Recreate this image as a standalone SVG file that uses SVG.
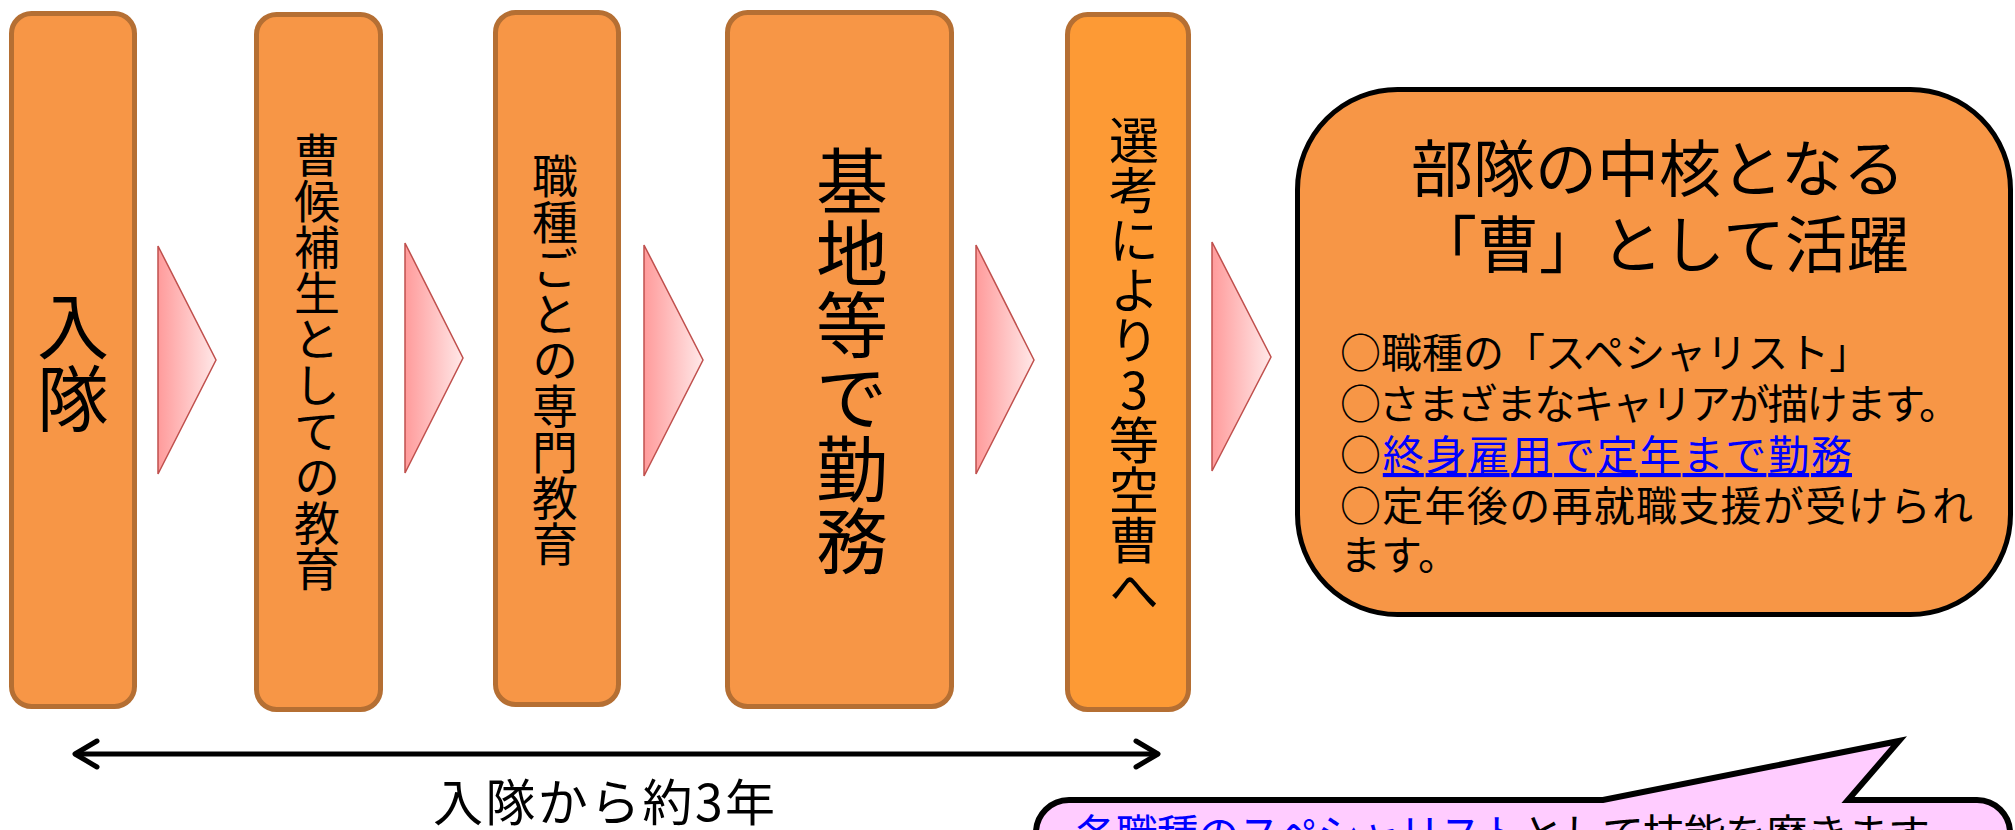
<svg xmlns="http://www.w3.org/2000/svg" width="2015" height="830" viewBox="0 0 2015 830">
<defs>
<linearGradient id="tri" x1="0" y1="0" x2="1" y2="0">
<stop offset="0" stop-color="#FF9B9B"/>
<stop offset="1" stop-color="#FFE8E8"/>
</linearGradient>
<style>
.box{fill:#F79646;stroke:#B56F33;stroke-width:5}
.box5{fill:#FD9A35;stroke:#B56F33;stroke-width:5}
.tri{fill:url(#tri);stroke:#C0504D;stroke-width:1.5;stroke-linejoin:miter}
.t{font-family:"Noto Sans CJK JP","Noto Sans CJK SC",sans-serif;fill:#000}
.v{writing-mode:vertical-rl;text-orientation:upright;text-anchor:middle}
.dbl{fill:none;stroke:#000;stroke-width:5;stroke-linecap:round;stroke-linejoin:round}
.blue{fill:#0000FF}
</style>
</defs>
<rect width="2015" height="830" fill="#FFFFFF"/>

<g id="connectors">
<polygon class="tri" points="158,246 216,360 158,474"/>
<polygon class="tri" points="405,243 463,358 405,473"/>
<polygon class="tri" points="644,245 703,360 644,476"/>
<polygon class="tri" points="976,245 1034,360 976,474"/>
<polygon class="tri" points="1212,242 1271,357 1212,471"/>
<g id="span-arrow">
<line class="dbl" x1="76" y1="754" x2="1157" y2="754"/>
<polyline class="dbl" points="97,741 75,754 97,767"/>
<polyline class="dbl" points="1136,741 1158,754 1136,767"/>
</g>
</g>

<g id="n1">
<rect class="box" x="11.5" y="13.5" width="123" height="693" rx="20"/>
<text class="t v" x="73" y="362" font-size="72">入隊</text>
</g>
<g id="n2">
<rect class="box" x="256.5" y="14.5" width="124" height="695" rx="20"/>
<text class="t v" x="317" y="362" font-size="46">曹候補生としての教育</text>
</g>
<g id="n3">
<rect class="box" x="495.5" y="12.5" width="123" height="692" rx="20"/>
<text class="t v" x="555" y="360" font-size="46">職種ごとの専門教育</text>
</g>
<g id="n4">
<rect class="box" x="727.5" y="12.5" width="224" height="694" rx="20"/>
<text class="t v" x="852" y="361" font-size="72">基地等で勤務</text>
</g>
<g id="n5">
<rect class="box5" x="1067.5" y="14.5" width="121" height="695" rx="20"/>
<text class="t v" x="1134" y="365" font-size="50">選考により3等空曹へ</text>
</g>

<g id="n6">
<rect x="1297.5" y="89.5" width="713" height="525" rx="100" fill="#F79646" stroke="#000" stroke-width="5"/>
<text class="t" x="1658" y="192" font-size="62" text-anchor="middle">部隊の中核となる</text>
<text class="t" x="1662" y="268" font-size="62" text-anchor="middle">「曹」として活躍</text>
<text class="t" x="1340" y="368" font-size="41">○職種の「スペシャリスト」</text>
<text class="t" x="1340" y="419" font-size="41" textLength="620" lengthAdjust="spacing">○さまざまなキャリアが描けます。</text>
<text class="t" x="1340" y="470" font-size="41" textLength="512" lengthAdjust="spacing">○<tspan class="blue" text-decoration="underline">終身雇用で定年まで勤務</tspan></text>
<text class="t" x="1340" y="521" font-size="41" textLength="633" lengthAdjust="spacing">○定年後の再就職支援が受けられ</text>
<text class="t" x="1340" y="570" font-size="41">ます。</text>
</g>

<g id="label-period">
<text class="t" x="433" y="821" font-size="50" textLength="342" lengthAdjust="spacing">入隊から約3年</text>
</g>

<g id="n7">
<path d="M1036,900 V833 A33,33 0 0 1 1069,800 H1603 L1899,741 L1848,800 H1977 A33,33 0 0 1 2010,833 V900 Z" fill="#FFCCFF" stroke="#000" stroke-width="6" stroke-linejoin="miter"/>
<text class="t" x="1075" y="850" font-size="42" textLength="855" lengthAdjust="spacing"><tspan class="blue">各職種のスペシャリスト</tspan>として技能を磨きます</text>
</g>
</svg>
